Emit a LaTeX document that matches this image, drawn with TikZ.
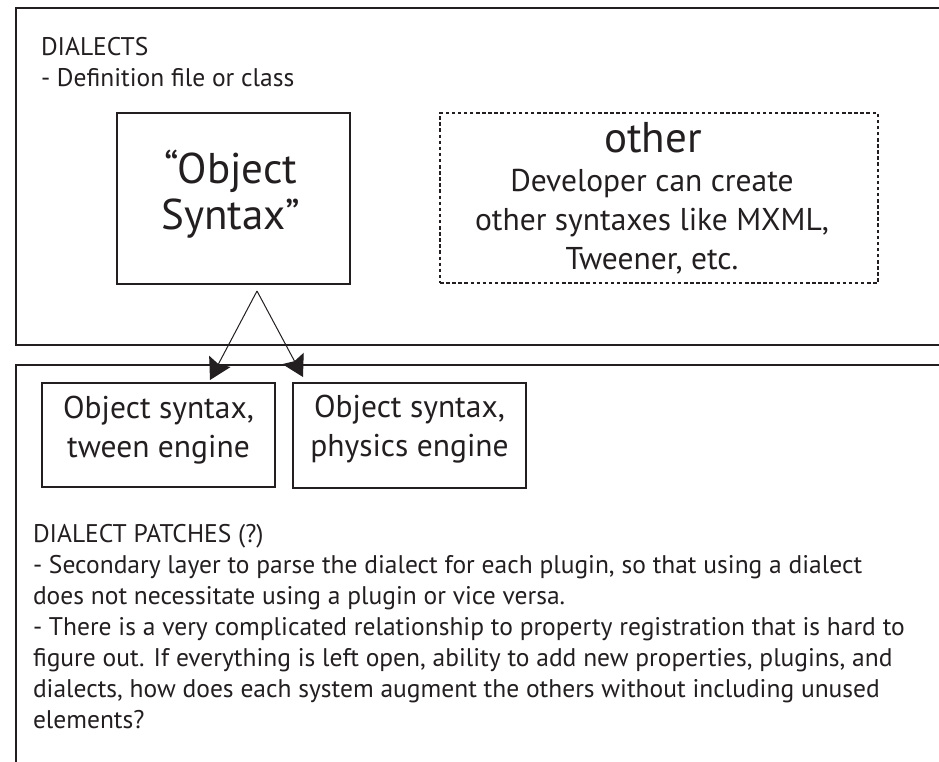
\documentclass[tikz,border=0pt]{standalone}
\usepackage{fontspec}
\setmainfont{PT Sans}
\usetikzlibrary{arrows.meta,calc}
\definecolor{ink}{HTML}{231F20}
\begin{document}
\begin{tikzpicture}[x=1pt,y=-1pt,
  every node/.style={text=ink, inner sep=0pt, outer sep=0pt},
  panel/.style={draw=ink, line width=2.7pt, anchor=north west},
  box/.style={draw=ink, line width=2.3pt},
  dotbox/.style={draw=ink, line width=2.2pt, dash pattern=on 3.5pt off 2.6pt},
  bodytext/.style={font=\fontsize{25.5}{31}\selectfont, align=left, anchor=north west},
  bigtext/.style={font=\fontsize{43}{46}\selectfont, align=center},
  midtext/.style={font=\fontsize{31.5}{39}\selectfont, align=center},
  link/.style={draw=ink, line width=1pt, -{Stealth[length=21pt,width=24pt,inset=3pt]}}
]
\useasboundingbox (0,0) rectangle (939,761);
\clip (0,0) rectangle (939,761);
\fill[white] (0,0) rectangle (939,761);

% panels
\node[panel, minimum width=960pt, minimum height=337pt] (dialects) at (16,8) {};
\node[panel, minimum width=960pt, minimum height=450pt] (patches) at (16,365) {};

% top panel content
\node[bodytext] (dtitle) at (41,33.3) {\strut DIALECTS\\- Definition file or class};

\node[box, minimum width=233pt, minimum height=171pt] (objbox) at (233.5,198.5) {};
\node[bigtext, anchor=north] (objtext) at (231,149.8) {\strut“Object\\Syntax”};

\node[dotbox, minimum width=438pt, minimum height=170pt] (otherbox) at (659,198) {};
\node[bigtext, anchor=base] (othertitle) at (653,152) {other};
\node[midtext, anchor=north] (othertext) at (652,163.7) {\strut Developer can create\\other syntaxes like MXML,\\Tweener, etc.};

% bottom panel content
\node[box, minimum width=233pt, minimum height=104pt, midtext] (tween) at (158.5,435) {\strut Object syntax,\\tween engine\rule[-22.3pt]{0pt}{0pt}};
\node[box, minimum width=233pt, minimum height=105pt, midtext] (physics) at (409.5,435.5) {\strut Object syntax,\\physics engine\rule[-23.5pt]{0pt}{0pt}};

\node[bodytext] (ptext) at (33,520.3) {\strut DIALECT PATCHES (?)\\
- Secondary layer to parse the dialect for each plugin, so that using a dialect\\
does not necessitate using a plugin or vice versa.\\
- There is a very complicated relationship to property registration that is hard to\\
figure out. If everything is left open, ability to add new properties, plugins, and\\
dialects, how does each system augment the others without including unused\\
elements?};

% connectors
\coordinate (apex) at (257,291);
\coordinate (tipL) at ($(tween.north west)+(168,-3)$);
\coordinate (tipR) at ($(physics.north west)+(10,-6)$);
\draw[link] (apex) -- (tipL);
\draw[link] (apex) -- (tipR);
\end{tikzpicture}
\end{document}
